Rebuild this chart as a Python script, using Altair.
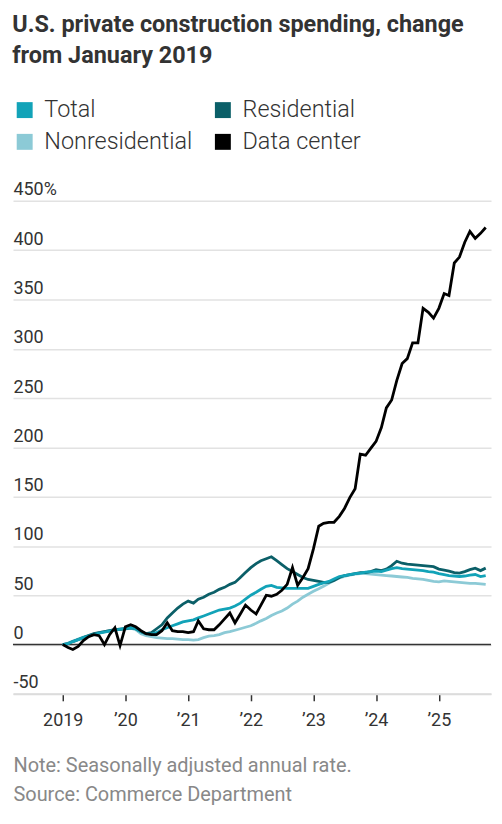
import altair as alt
import pandas as pd

# monthly, Jan 2019 .. Oct 2025, % change from Jan 2019
months = pd.date_range("2019-01-01", periods=82, freq="MS")

total = [
    0, 1, 3, 5, 7, 8.5, 10, 11.5, 12.5, 13.5,
    14.5, 15.5, 16.5, 17, 16, 13, 11, 10.5, 12, 15,
    17, 19, 21, 23, 24, 25, 27, 29, 31, 33,
    35, 36, 37, 39, 42, 46, 50, 53, 56, 59,
    60, 58, 57.5, 57, 57, 57, 57, 57, 59, 61,
    62.5, 64, 66.5, 69, 70, 71, 72, 72.5, 73.5, 74,
    74.5, 74, 75.5, 77, 78, 77, 76.5, 76, 75.5, 75,
    74, 73.5, 72, 71, 70, 69.5, 69, 69.5, 70.5, 71,
    69, 70,
]
residential = [
    0, 1, 3, 5, 7, 9, 11, 12, 13, 14,
    15, 15.5, 16, 17, 16, 13, 11, 12, 16, 20,
    27, 32, 37, 41, 44, 42, 46, 48, 51, 53,
    56, 58, 61, 63, 68, 73, 78, 82, 85, 87,
    89, 85, 81, 77, 74, 71, 68, 66, 65, 64,
    63, 63, 65, 68, 70, 71, 72, 73, 73, 74,
    76, 75, 76.5, 80, 84.5, 82.5, 81.5, 81, 80.5, 80,
    79.5, 79, 76.5, 75.5, 74.5, 73, 72.5, 74, 76, 77.5,
    75, 77.5,
]
nonresidential = [
    0, 1.5, 3.5, 5.5, 7.5, 9, 10.5, 12, 13, 14,
    15, 15.5, 16, 16.5, 15, 11, 9, 8, 7, 6.5,
    6, 6, 5.5, 5, 5, 4.5, 5, 7, 8.5, 9,
    10, 12, 13, 14.5, 16, 17.5, 19, 21.5, 24, 26.5,
    29.5, 32, 34, 37, 41, 44, 48, 51, 54, 56.5,
    59, 62, 65, 67.5, 69, 70.5, 71.5, 72, 72, 71.5,
    71, 70.5, 70, 69.5, 69, 68.5, 68, 67, 66.5, 66,
    65, 64, 63.5, 64.5, 64, 63.5, 63, 62.5, 62, 62,
    61.5, 61,
]
data_center = [
    0, -3, -5, -2, 4, 8, 10, 9, 0, 10,
    17, -1, 18, 20, 18, 14, 11, 10, 10, 14,
    22, 14, 13, 13, 12, 13, 24, 16, 15, 15,
    20, 26, 32, 22, 31, 40, 35, 31, 40, 50,
    49, 51, 55, 61, 78, 60, 68, 77, 97, 120,
    123, 124, 124, 130, 138, 149, 158, 193, 192, 199,
    206, 220, 240, 248, 268, 285, 290, 306, 306, 341,
    337, 331, 341, 356, 354, 387, 393, 408, 419, 412,
    417, 423,
]

series_names = ["Total", "Residential", "Nonresidential", "Data center"]
series_colors = ["#12a3b8", "#0b5f68", "#8ccad6", "#000000"]
y_ticks = [-50, 0, 50, 100, 150, 200, 250, 300, 350, 400, 450]

title_lines = ["U.S. private construction spending, change", "from January 2019"]
footer_lines = ["Note: Seasonally adjusted annual rate.", "Source: Commerce Department"]

# drawing order: light lines underneath, data center on top
frames = []
for name, values in [
    ("Nonresidential", nonresidential),
    ("Residential", residential),
    ("Total", total),
    ("Data center", data_center),
]:
    frames.append(pd.DataFrame({"month": months, "change": values, "series": name}))
df = pd.concat(frames, ignore_index=True)

x_scale = alt.Scale(
    domain=[
        alt.DateTime(year=2018, month=3, date=17),
        alt.DateTime(year=2025, month=11, date=1),
    ]
)
y_scale = alt.Scale(domain=[-50, 450], nice=False)

lines = (
    alt.Chart(df)
    .mark_line(strokeWidth=2.8)
    .encode(
        x=alt.X(
            "month:T",
            scale=x_scale,
            axis=alt.Axis(
                format="%Y",
                labelExpr="datum.label == '2019' ? '2019' : '\u2019' + substring(datum.label, 2)",
                tickCount={"interval": "year", "step": 1},
                grid=False,
                domainColor="#dcdcdc",
                domainWidth=2,
                tickColor="#333333",
                tickSize=7,
                tickWidth=1.5,
                labelFontSize=18,
                labelColor="#333333",
                labelPadding=11,
                labelFlush=False,
                title=footer_lines,
                titleAnchor="start",
                titleAlign="left",
                titleFontSize=20,
                titleFontWeight="normal",
                titleColor="#888888",
                titleLineHeight=29,
                titlePadding=26,
            ),
        ),
        y=alt.Y(
            "change:Q",
            scale=y_scale,
            axis=alt.Axis(
                values=y_ticks,
                domain=False,
                ticks=False,
                labelAlign="left",
                labelBaseline="alphabetic",
                labelOffset=-6,
                labelPadding=0,
                labelFontSize=18,
                labelColor="#333333",
                labelExpr="datum.value == 450 ? '450%' : '' + datum.value",
                gridColor="#e2e2e2",
                gridWidth=1.5,
                title=None,
            ),
        ),
        color=alt.Color(
            "series:N",
            scale=alt.Scale(domain=series_names, range=series_colors),
            legend=alt.Legend(
                orient="none",
                legendX=0,
                legendY=-103,
                direction="horizontal",
                columns=2,
                title=None,
                symbolType="square",
                symbolSize=64,
                symbolStrokeWidth=8,
                labelFontSize=23.5,
                labelFontWeight=300,
                labelColor="#333333",
                labelOffset=8,
                labelLimit=300,
                columnPadding=9,
                rowPadding=-13,
            ),
        ),
    )
)

zero_rule = (
    alt.Chart(pd.DataFrame({"change": [0]}))
    .mark_rule(color="#333333", strokeWidth=1.5)
    .encode(y=alt.Y("change:Q", scale=y_scale))
)

chart = (
    alt.layer(zero_rule, lines)
    .properties(
        width=480,
        height=495,
        padding={"left": 4, "top": 3, "right": 2, "bottom": 4},
        title=alt.Title(
            title_lines,
            anchor="start",
            fontSize=23.5,
            fontWeight="bold",
            color="#333333",
            lineHeight=31,
            offset=31,
        ),
    )
    .configure(font="Roboto")
    .configure_view(stroke=None)
)

chart.save("out.html", embed_options={"renderer": "svg", "actions": False})
